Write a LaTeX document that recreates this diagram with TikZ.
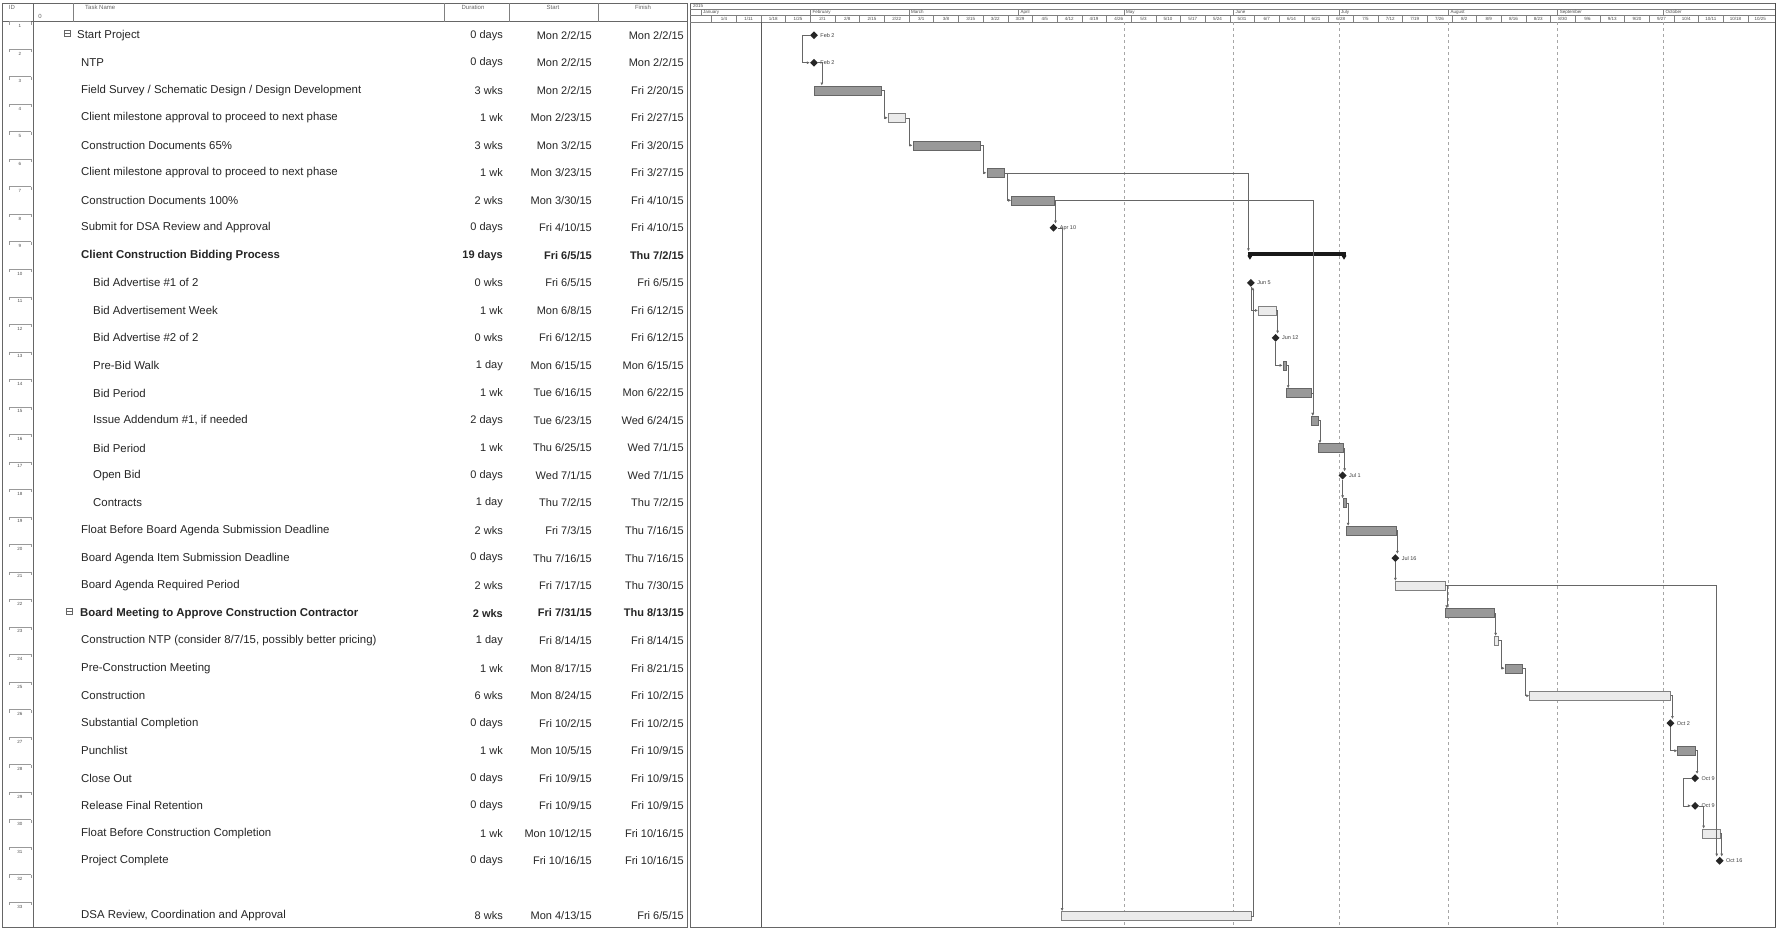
\documentclass[tikz,border=0pt]{standalone}
\usepackage{fontspec}
\setmainfont{Liberation Sans}
\usetikzlibrary{arrows.meta,shapes.geometric,positioning}

\begin{document}
\begin{tikzpicture}[x=1pt, y=-1pt,
  txt/.style={anchor=west, inner sep=0, text=black!85, font=\fontsize{11.4}{13}\selectfont},
  txtb/.style={txt, font=\fontsize{11.4}{13}\selectfont\bfseries},
  num/.style={anchor=east, inner sep=0, text=black!85, font=\fontsize{11}{13}\selectfont},
  numb/.style={num, font=\fontsize{11}{13}\selectfont\bfseries},
  hdr/.style={inner sep=0, text=black!60, font=\fontsize{6}{7}\selectfont},
  tiny/.style={inner sep=0, text=black!70, font=\fontsize{4.5}{5}\selectfont},
  bar/.style={anchor=west, draw=black!60, fill=black!40, minimum height=9pt, inner sep=0},
  lightbar/.style={bar, fill=black!8, draw=black!50},
  sumbar/.style={anchor=west, fill=black!90, minimum height=4pt, inner sep=0},
  mile/.style={diamond, fill=black!85, inner sep=0, minimum size=8pt},
  mslabel/.style={inner sep=1pt, text=black!75, font=\fontsize{5.5}{6}\selectfont},
  icon/.style={draw=black!60, minimum size=6pt, inner sep=0},
  link/.style={draw=black!60, line width=0.6pt, -{Latex[length=3pt,width=3pt]}},
  grid/.style={draw=black!35, dashed, line width=0.7pt}
]
\useasboundingbox (0,0) rectangle (1783,929);
\fill[white] (0,0) rectangle (1783,929);

% table frame
\draw[black!60] (2,3) rectangle (687,927);
\draw[black!60] (690,3) -- (690,927);
\draw[black!60] (2,21.5) -- (687,21.5);
\draw[black!60] (33,3) -- (33,927);
\draw[black!50] (73,3) -- (73,21.5)
		(444,3) -- (444,21.5)
		(509,3) -- (509,21.5)
		(598,3) -- (598,21.5);

% table header
\draw	(12,7) node[hdr] (hid) {ID}
		(40,16) node[hdr] (hind) {0}
		(85,7) node[hdr, anchor=west] (hname) {Task Name}
		(473,7) node[hdr] (hdur) {Duration}
		(553,7) node[hdr] (hstart) {Start}
		(643,7) node[hdr] (hfin) {Finish};

% row ids
\foreach \i in {1,...,33}
  \draw[black!40] (9,{21.5+(\i-1)*27.52}) -- (31,{21.5+(\i-1)*27.52})
        (9,{21.5+(\i-1)*27.52}) -- ++(0,3)
        (31,{21.5+(\i-1)*27.52}) -- ++(0,3)
        (20,{26+(\i-1)*27.52}) node[tiny] (id\i) {\i};

% summary icons
\node[icon] (i1) at (67,33) {};
\draw[black!60] (i1.west) -- (i1.east);
\node[icon] (i22) at (69,611) {};
\draw[black!60] (i22.west) -- (i22.east);

% task names
\draw	(77,35.2) node[txt] (n1) {Start Project}
		(81,62.7) node[txt] (n2) {NTP}
		(81,90.2) node[txt] (n3) {Field Survey / Schematic Design / Design Development}
		(81,117.8) node[txt] (n4) {Client milestone approval to proceed to next phase}
		(81,145.3) node[txt] (n5) {Construction Documents 65\%}
		(81,172.8) node[txt] (n6) {Client milestone approval to proceed to next phase}
		(81,200.3) node[txt] (n7) {Construction Documents 100\%}
		(81,227.8) node[txt] (n8) {Submit for DSA Review and Approval}
		(81,255.4) node[txtb] (n9) {Client Construction Bidding Process}
		(93,282.9) node[txt] (n10) {Bid Advertise \#1 of 2}
		(93,310.4) node[txt] (n11) {Bid Advertisement Week}
		(93,337.9) node[txt] (n12) {Bid Advertise \#2 of 2}
		(93,365.4) node[txt] (n13) {Pre-Bid Walk}
		(93,393.0) node[txt] (n14) {Bid Period}
		(93,420.5) node[txt] (n15) {Issue Addendum \#1, if needed}
		(93,448.0) node[txt] (n16) {Bid Period}
		(93,475.5) node[txt] (n17) {Open Bid}
		(93,503.0) node[txt] (n18) {Contracts}
		(81,530.6) node[txt] (n19) {Float Before Board Agenda Submission Deadline}
		(81,558.1) node[txt] (n20) {Board Agenda Item Submission Deadline}
		(81,585.6) node[txt] (n21) {Board Agenda Required Period}
		(80,613.1) node[txtb] (n22) {Board Meeting to Approve Construction Contractor}
		(81,640.6) node[txt] (n23) {Construction NTP (consider 8/7/15, possibly better pricing)}
		(81,668.2) node[txt] (n24) {Pre-Construction Meeting}
		(81,695.7) node[txt] (n25) {Construction}
		(81,723.2) node[txt] (n26) {Substantial Completion}
		(81,750.7) node[txt] (n27) {Punchlist}
		(81,778.2) node[txt] (n28) {Close Out}
		(81,805.8) node[txt] (n29) {Release Final Retention}
		(81,833.3) node[txt] (n30) {Float Before Construction Completion}
		(81,860.8) node[txt] (n31) {Project Complete}
		(81,915.8) node[txt] (n33) {DSA Review, Coordination and Approval};

% durations
\draw	(503,35.2) node[num] (d1) {0 days}
		(503,62.7) node[num] (d2) {0 days}
		(503,90.2) node[num] (d3) {3 wks}
		(503,117.8) node[num] (d4) {1 wk}
		(503,145.3) node[num] (d5) {3 wks}
		(503,172.8) node[num] (d6) {1 wk}
		(503,200.3) node[num] (d7) {2 wks}
		(503,227.8) node[num] (d8) {0 days}
		(503,255.4) node[numb] (d9) {19 days}
		(503,282.9) node[num] (d10) {0 wks}
		(503,310.4) node[num] (d11) {1 wk}
		(503,337.9) node[num] (d12) {0 wks}
		(503,365.4) node[num] (d13) {1 day}
		(503,393.0) node[num] (d14) {1 wk}
		(503,420.5) node[num] (d15) {2 days}
		(503,448.0) node[num] (d16) {1 wk}
		(503,475.5) node[num] (d17) {0 days}
		(503,503.0) node[num] (d18) {1 day}
		(503,530.6) node[num] (d19) {2 wks}
		(503,558.1) node[num] (d20) {0 days}
		(503,585.6) node[num] (d21) {2 wks}
		(503,613.1) node[numb] (d22) {2 wks}
		(503,640.6) node[num] (d23) {1 day}
		(503,668.2) node[num] (d24) {1 wk}
		(503,695.7) node[num] (d25) {6 wks}
		(503,723.2) node[num] (d26) {0 days}
		(503,750.7) node[num] (d27) {1 wk}
		(503,778.2) node[num] (d28) {0 days}
		(503,805.8) node[num] (d29) {0 days}
		(503,833.3) node[num] (d30) {1 wk}
		(503,860.8) node[num] (d31) {0 days}
		(503,915.8) node[num] (d33) {8 wks};

% start dates
\draw	(592,35.2) node[num] (s1) {Mon 2/2/15}
		(592,62.7) node[num] (s2) {Mon 2/2/15}
		(592,90.2) node[num] (s3) {Mon 2/2/15}
		(592,117.8) node[num] (s4) {Mon 2/23/15}
		(592,145.3) node[num] (s5) {Mon 3/2/15}
		(592,172.8) node[num] (s6) {Mon 3/23/15}
		(592,200.3) node[num] (s7) {Mon 3/30/15}
		(592,227.8) node[num] (s8) {Fri 4/10/15}
		(592,255.4) node[numb] (s9) {Fri 6/5/15}
		(592,282.9) node[num] (s10) {Fri 6/5/15}
		(592,310.4) node[num] (s11) {Mon 6/8/15}
		(592,337.9) node[num] (s12) {Fri 6/12/15}
		(592,365.4) node[num] (s13) {Mon 6/15/15}
		(592,393.0) node[num] (s14) {Tue 6/16/15}
		(592,420.5) node[num] (s15) {Tue 6/23/15}
		(592,448.0) node[num] (s16) {Thu 6/25/15}
		(592,475.5) node[num] (s17) {Wed 7/1/15}
		(592,503.0) node[num] (s18) {Thu 7/2/15}
		(592,530.6) node[num] (s19) {Fri 7/3/15}
		(592,558.1) node[num] (s20) {Thu 7/16/15}
		(592,585.6) node[num] (s21) {Fri 7/17/15}
		(592,613.1) node[numb] (s22) {Fri 7/31/15}
		(592,640.6) node[num] (s23) {Fri 8/14/15}
		(592,668.2) node[num] (s24) {Mon 8/17/15}
		(592,695.7) node[num] (s25) {Mon 8/24/15}
		(592,723.2) node[num] (s26) {Fri 10/2/15}
		(592,750.7) node[num] (s27) {Mon 10/5/15}
		(592,778.2) node[num] (s28) {Fri 10/9/15}
		(592,805.8) node[num] (s29) {Fri 10/9/15}
		(592,833.3) node[num] (s30) {Mon 10/12/15}
		(592,860.8) node[num] (s31) {Fri 10/16/15}
		(592,915.8) node[num] (s33) {Mon 4/13/15};

% finish dates
\draw	(684,35.2) node[num] (f1) {Mon 2/2/15}
		(684,62.7) node[num] (f2) {Mon 2/2/15}
		(684,90.2) node[num] (f3) {Fri 2/20/15}
		(684,117.8) node[num] (f4) {Fri 2/27/15}
		(684,145.3) node[num] (f5) {Fri 3/20/15}
		(684,172.8) node[num] (f6) {Fri 3/27/15}
		(684,200.3) node[num] (f7) {Fri 4/10/15}
		(684,227.8) node[num] (f8) {Fri 4/10/15}
		(684,255.4) node[numb] (f9) {Thu 7/2/15}
		(684,282.9) node[num] (f10) {Fri 6/5/15}
		(684,310.4) node[num] (f11) {Fri 6/12/15}
		(684,337.9) node[num] (f12) {Fri 6/12/15}
		(684,365.4) node[num] (f13) {Mon 6/15/15}
		(684,393.0) node[num] (f14) {Mon 6/22/15}
		(684,420.5) node[num] (f15) {Wed 6/24/15}
		(684,448.0) node[num] (f16) {Wed 7/1/15}
		(684,475.5) node[num] (f17) {Wed 7/1/15}
		(684,503.0) node[num] (f18) {Thu 7/2/15}
		(684,530.6) node[num] (f19) {Thu 7/16/15}
		(684,558.1) node[num] (f20) {Thu 7/16/15}
		(684,585.6) node[num] (f21) {Thu 7/30/15}
		(684,613.1) node[numb] (f22) {Thu 8/13/15}
		(684,640.6) node[num] (f23) {Fri 8/14/15}
		(684,668.2) node[num] (f24) {Fri 8/21/15}
		(684,695.7) node[num] (f25) {Fri 10/2/15}
		(684,723.2) node[num] (f26) {Fri 10/2/15}
		(684,750.7) node[num] (f27) {Fri 10/9/15}
		(684,778.2) node[num] (f28) {Fri 10/9/15}
		(684,805.8) node[num] (f29) {Fri 10/9/15}
		(684,833.3) node[num] (f30) {Fri 10/16/15}
		(684,860.8) node[num] (f31) {Fri 10/16/15}
		(684,915.8) node[num] (f33) {Fri 6/5/15};

% timescale
\draw[black!60] (690,3) rectangle (1775,927);
\draw[black!50] (690,9) -- (1775,9)
		(690,15.5) -- (1775,15.5)
		(690,22) -- (1775,22);
\node[tiny, anchor=west] (yr) at (693,6) {2015};
\foreach \x/\m [count=\i] in {701/January, 810.3/February, 909/March, 1018.3/April,
    1124/May, 1233.3/June, 1339/July, 1448.3/August, 1557.6/September, 1663.3/October}
  \draw[black!50] (\x,9) -- (\x,15.5)
        (\x+2,12.3) node[tiny, anchor=west] (mon\i) {\m};
\foreach \m/\d [count=\k from 0] in {1/4,1/11,1/18,1/25,2/1,2/8,2/15,2/22,3/1,3/8,3/15,
    3/22,3/29,4/5,4/12,4/19,4/26,5/3,5/10,5/17,5/24,5/31,6/7,6/14,6/21,6/28,7/5,7/12,
    7/19,7/26,8/2,8/9,8/16,8/23,8/30,9/6,9/13,9/20,9/27,10/4,10/11,10/18,10/25}
  \draw[black!50] ({711.6+24.675*\k},15.5) -- ({711.6+24.675*\k},22)
        ({723.9+24.675*\k},18.8) node[tiny] (wk\k) {\m/\d};

% grid lines
\draw[black!65, line width=0.8pt] (761,22) -- (761,927);
\draw[grid] (1124,22) -- (1124,927)
		(1233.3,22) -- (1233.3,927)
		(1339,22) -- (1339,927)
		(1448.3,22) -- (1448.3,927)
		(1557.6,22) -- (1557.6,927)
		(1663.3,22) -- (1663.3,927);
\draw[black!70, line width=1pt] (1775,3) -- (1775,927);

% bars and milestones
\node[mile] (m1) at (814,35.2) {};
\node[mile] (m2) at (814,62.7) {};
\node[bar, minimum width=67pt] (t3) at (813.8,90.2) {};
\node[lightbar, minimum width=17.6pt] (t4) at (887.8,117.8) {};
\node[bar, minimum width=67pt] (t5) at (912.5,145.3) {};
\node[bar, minimum width=17.6pt] (t6) at (986.5,172.8) {};
\node[bar, minimum width=42.3pt] (t7) at (1011.2,200.3) {};
\node[mile] (m8) at (1053.5,227.8) {};
\node[sumbar, minimum width=98.7pt] (t9) at (1247.4,253.5) {};
\fill[black!90] (t9.south west) -- ++(5,0) -- ++(-2.5,4) -- cycle;
\fill[black!90] (t9.south east) -- ++(-5,0) -- ++(2.5,4) -- cycle;
\node[mile] (m10) at (1250.9,282.9) {};
\node[lightbar, minimum width=17.6pt] (t11) at (1258,310.4) {};
\node[mile] (m12) at (1275.6,337.9) {};
\node[bar, minimum width=3.5pt] (t13) at (1282.6,365.4) {};
\node[bar, minimum width=24.7pt] (t14) at (1286.2,393) {};
\node[bar, minimum width=7pt] (t15) at (1310.8,420.5) {};
\node[bar, minimum width=24.7pt] (t16) at (1317.9,448) {};
\node[mile] (m17) at (1342.6,475.5) {};
\node[bar, minimum width=3.5pt] (t18) at (1342.6,503) {};
\node[bar, minimum width=49.4pt] (t19) at (1346.1,530.6) {};
\node[mile] (m20) at (1395.4,558.1) {};
\node[lightbar, minimum width=49.4pt] (t21) at (1395.4,585.6) {};
\node[bar, minimum width=49.4pt] (t22) at (1444.8,613.1) {};
\node[lightbar, minimum width=3.5pt] (t23) at (1494.1,640.6) {};
\node[bar, minimum width=17.6pt] (t24) at (1504.7,668.2) {};
\node[lightbar, minimum width=141pt] (t25) at (1529.4,695.7) {};
\node[mile] (m26) at (1670.4,723.2) {};
\node[bar, minimum width=17.6pt] (t27) at (1677.4,750.7) {};
\node[mile] (m28) at (1695.1,778.2) {};
\node[mile] (m29) at (1695.1,805.8) {};
\node[lightbar, minimum width=17.6pt] (t30) at (1702.1,833.3) {};
\node[mile] (m31) at (1719.7,860.8) {};
\node[lightbar, minimum width=190.4pt] (t33) at (1060.6,915.8) {};

% milestone labels
\node[mslabel, right=1pt of m1] (l1) {Feb 2};
\node[mslabel, right=1pt of m2] (l2) {Feb 2};
\node[mslabel, right=1pt of m8] (l8) {Apr 10};
\node[mslabel, right=1pt of m10] (l10) {Jun 5};
\node[mslabel, right=1pt of m12] (l12) {Jun 12};
\node[mslabel, right=1pt of m17] (l17) {Jul 1};
\node[mslabel, right=1pt of m20] (l20) {Jul 16};
\node[mslabel, right=1pt of m26] (l26) {Oct 2};
\node[mslabel, right=1pt of m28] (l28) {Oct 9};
\node[mslabel, right=1pt of m29] (l29) {Oct 9};
\node[mslabel, right=1pt of m31] (l31) {Oct 16};

% links
\draw[link] (m1.west) -- ++(-8,0) |- (m2.west);
\draw[link] (m2.east) -| ([xshift=8pt]t3.north west);
\draw[link] (t3.east) -- ++(3,0) |- (t4.west);
\draw[link] (t4.east) -- ++(3,0) |- (t5.west);
\draw[link] (t5.east) -- ++(3,0) |- (t6.west);
\draw[link] (t6.east) -- ++(3,0) |- (t7.west);
\draw[link] (t6.east) -| ([xshift=1pt]t9.north west);
\draw[link] (t7.east) -| ([xshift=2pt]m8.north);
\draw[link] (t7.east) -| ([xshift=2pt]t15.north west);
\draw[link] (m8.east) -| ([xshift=1.5pt]t33.north west);
\draw[link] (t33.east) -| ([xshift=2pt]m10.south);
\draw[link] (m10.south) |- (t11.west);
\draw[link] (t11.east) -| ([xshift=2pt]m12.north);
\draw[link] (m12.south) |- (t13.west);
\draw[link] (t13.east) -| ([xshift=2pt]t14.north west);
\draw[link] (t14.east) -| ([xshift=2pt]t15.north west);
\draw[link] (t15.east) -| ([xshift=2pt]t16.north west);
\draw[link] (t16.east) -| ([xshift=2pt]m17.north);
\draw[link] (m17.south) -- (m17.south |- t18.north);
\draw[link] (t18.east) -| ([xshift=2pt]t19.north west);
\draw[link] (t19.east) -| ([xshift=2pt]m20.north);
\draw[link] (m20.south) -- (m20.south |- t21.north);
\draw[link] (t21.east) -| ([xshift=2pt]t22.north west);
\draw[link] (t21.east) -| ([xshift=-3pt]m31.north);
\draw[link] (t22.east) -| ([xshift=1.5pt]t23.north west);
\draw[link] (t23.east) -- ++(3,0) |- (t24.west);
\draw[link] (t24.east) -- ++(3,0) |- (t25.west);
\draw[link] (t25.east) -| ([xshift=2pt]m26.north);
\draw[link] (m26.south) |- (t27.west);
\draw[link] (t27.east) -| ([xshift=2pt]m28.north);
\draw[link] (m28.west) -- ++(-8,0) |- (m29.west);
\draw[link] (m29.east) -| ([xshift=1.5pt]t30.north west);
\draw[link] (t30.east) -| ([xshift=2pt]m31.north);

\end{tikzpicture}
\end{document}
